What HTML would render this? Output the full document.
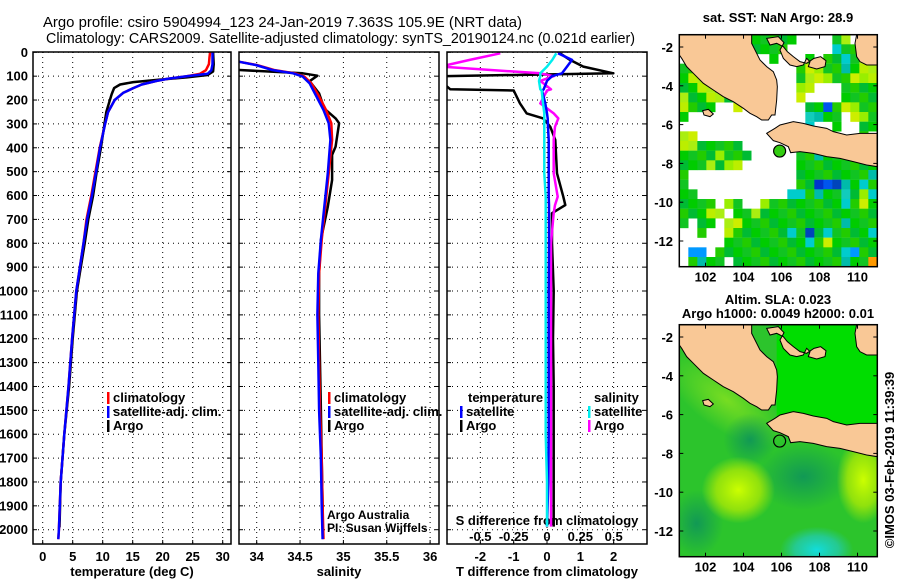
<!DOCTYPE html>
<html><head><meta charset="utf-8"><title>Argo profile</title>
<style>
html,body{margin:0;padding:0;background:#fff;}
svg{display:block;font-family:"Liberation Sans",sans-serif;}
.t{font-size:13px;font-weight:bold;fill:#000;}
.g{stroke:#000;stroke-width:1;stroke-dasharray:1,4;fill:none;}
.box{fill:none;stroke:#000;stroke-width:1.5;}
.ln{fill:none;stroke-width:2.5;stroke-linejoin:round;}
</style></head>
<body>
<svg id="fig" width="900" height="580" viewBox="0 0 900 580">
<defs>
<clipPath id="c1"><rect x="33" y="52" width="198" height="492"/></clipPath>
<clipPath id="c2"><rect x="239" y="52" width="200" height="492"/></clipPath>
<clipPath id="c3"><rect x="447" y="52" width="200" height="492"/></clipPath>
<clipPath id="cm"><rect x="58" y="104" width="594" height="696"/></clipPath>
<radialGradient id="gy"><stop offset="0" stop-color="#ccff00"/><stop offset="0.6" stop-color="#bbee00" stop-opacity="0.7"/><stop offset="1" stop-color="#bbee00" stop-opacity="0"/></radialGradient>
<radialGradient id="gc"><stop offset="0" stop-color="#11dddd"/><stop offset="0.6" stop-color="#22ccbb" stop-opacity="0.7"/><stop offset="1" stop-color="#22ccaa" stop-opacity="0"/></radialGradient>
<radialGradient id="gd"><stop offset="0" stop-color="#119955"/><stop offset="1" stop-color="#119955" stop-opacity="0"/></radialGradient>
<radialGradient id="gl"><stop offset="0" stop-color="#77dd22"/><stop offset="1" stop-color="#77dd22" stop-opacity="0"/></radialGradient>
</defs>
<text x="43" y="27" textLength="479" lengthAdjust="spacingAndGlyphs" style="font-size:15px">Argo profile: csiro 5904994_123 24-Jan-2019 7.363S 105.9E (NRT data)</text>
<text x="46" y="43" textLength="589" lengthAdjust="spacingAndGlyphs" style="font-size:15px">Climatology: CARS2009. Satellite-adjusted climatology: synTS_20190124.nc (0.021d earlier)</text>
<g id="axes"></g>
<g id="maps"></g>
</svg>
<script>
// ---- data ----
const depthTicks=[0,100,200,300,400,500,600,700,800,900,1000,1100,1200,1300,1400,1500,1600,1700,1800,1900,2000];
const tempTicks=[0,5,10,15,20,25,30];
const salTicks=[34,34.5,35,35.5,36];
const tdiffTicks=[-2,-1,0,1,2];
const sdiffTicks=[-0.5,-0.25,0,0.25,0.5];
const climDepth=[0,20,50,75,90,100,110,120,135,150,170,200,250,300,400,500,600,700,800,1000,1200,1400,1600,1800,2000,2040];
const tempClim=[27.9,27.8,27.7,27.2,26.2,24,21,19,16.5,15.1,13.4,12,10.9,10.4,9.5,8.8,8.1,7.3,6.8,5.6,4.9,4.3,3.6,3.0,2.7,2.6];
const tempSat=[28.3,28.3,28.3,28.1,27.5,24,21,19,16.5,15.1,13.4,12,10.9,10.4,9.55,8.9,8.2,7.4,6.8,5.6,4.9,4.3,3.6,3.0,2.7,2.6];
const argoTDepth=[0,50,80,95,105,115,125,135,150,175,200,250,300,400,500,600,700,800,1000,1200,1400,1600,1800,1990];
const tempArgo=[28.4,28.5,28.4,27.5,24,19.3,15.1,12.9,11.9,11.5,11.2,10.6,10.3,9.7,9.0,8.4,7.6,7.0,5.7,5.0,4.4,3.6,3.0,2.8];
const salDepth=[0,40,53,74,88,102,130,179,242,297,367,507,647,786,926,1100,1300,1500,1700,1900,2040];
const salClim=[33.6,33.8,34.0,34.2,34.44,34.55,34.63,34.71,34.80,34.86,34.87,34.83,34.79,34.75,34.72,34.71,34.72,34.73,34.75,34.76,34.77];
const salSat=[33.6,33.8,33.99,34.18,34.42,34.53,34.61,34.68,34.77,34.83,34.85,34.82,34.78,34.74,34.71,34.70,34.71,34.72,34.74,34.75,34.76];
const argoSDepth=[0,70,74,88,98,121,172,236,277,297,395,430,535,647,786,926,1100,1300,1500,1700,1900,1990];
const salArgo=[33.3,33.3,33.8,34.53,34.70,34.61,34.72,34.78,34.91,34.95,34.91,34.87,34.87,34.82,34.74,34.72,34.72,34.73,34.74,34.75,34.76,34.76];
const diffDepth=[4,32,60,88,100,120,155,160,214,256,277,312,367,507,605,640,674,800,1000,1200,1400,1600,1800,1987];
const tDiffArgo=[0.39,0.69,1.09,1.99,-3.2,-3.2,-2.9,-1.0,-0.81,-0.61,-0.11,0.1,0.25,0.3,0.49,0.55,0.15,0.15,0.2,0.18,0.2,0.2,0.2,0.2];
const tDiffSat=[0.33,0.75,0.6,0.45,0.15,0.0,-0.1,-0.15,-0.05,0.0,0.02,0.03,0.05,0.05,0.05,0.06,0.06,0.06,0.05,0.05,0.05,0.05,0.04,0.0];
const sDiffArgo=[-0.35,-0.58,-0.8,-0.05,0.05,-0.05,0.03,0.0,-0.05,0.05,0.085,0.06,0.05,0.05,0.08,0.06,0.05,0.03,0.03,0.03,0.03,0.03,0.03,0.03];
const sDiffSat=[0.07,0.04,0.0,-0.05,-0.05,-0.06,-0.05,-0.04,-0.03,-0.02,-0.02,-0.02,-0.02,-0.02,-0.01,-0.01,-0.01,-0.01,-0.01,-0.01,-0.01,-0.01,0.0,0.0];
const latTicks=[-2,-4,-6,-8,-10,-12];
const lonTicks=[102,104,106,108,110];
const argoLon=105.9, argoLat=-7.363;

// ---- scales ----
const yD=d=>52.3+d*0.2387;
const xT=v=>42.7+v*6;
const xS=v=>256.7+(v-34)*86.7;
const xTd=v=>547+v*33.33;
const xSd=v=>547+v*133.3;
const NS='http://www.w3.org/2000/svg';
const fig=document.getElementById('fig');
const axes=document.getElementById('axes');
function mk(tag,attrs,parent){const e=document.createElementNS(NS,tag);for(const k in attrs)e.setAttribute(k,attrs[k]);(parent||axes).appendChild(e);return e;}
function txt(x,y,s,anchor,cls,parent){const e=mk('text',{x:x,y:y,'text-anchor':anchor||'middle','class':cls||'t'},parent);e.textContent=s;return e;}

const panels=[
 {x0:33,x1:231,clip:'c1',ticks:tempTicks,fx:xT,title:'temperature (deg C)',name:'temperature'},
 {x0:239,x1:439,clip:'c2',ticks:salTicks,fx:xS,title:'salinity',name:'salinity'},
 {x0:447,x1:647,clip:'c3',ticks:tdiffTicks,fx:xTd,title:'T difference from climatology',name:'difference'}
];
panels.forEach(p=>{
 depthTicks.forEach(d=>{
  const l=mk('line',{x1:p.x0,x2:p.x1,y1:yD(d),y2:yD(d),'class':'g'});
  
  
  const t1=mk('line',{x1:p.x0,x2:p.x0+4,y1:yD(d),y2:yD(d),stroke:'#000'});
  
  
  const t2=mk('line',{x1:p.x1-4,x2:p.x1,y1:yD(d),y2:yD(d),stroke:'#000'});
  
  
 });
 p.ticks.forEach(v=>{
  const X=p.fx(v);
  const l=mk('line',{x1:X,x2:X,y1:52,y2:544,'class':'g'});
  
  
  const tk=mk('line',{x1:X,x2:X,y1:540,y2:544,stroke:'#000'});
  
  
  const lb=txt(X,561,String(v));
  
  
 });
 const ti=txt((p.x0+p.x1)/2,576,p.title);
 
 
});
depthTicks.forEach(d=>{
 const lb=txt(28,yD(d)+4.5,String(d),'end');
 
 
});
sdiffTicks.forEach(v=>{
 const X=xSd(v);
 const lb=txt(X,541,String(v));
 
 
});
const sdt=txt(547,525,'S difference from climatology');



function line(depths,vals,fx,color,clip,name){
 let d='';
 depths.forEach((z,i)=>{d+=(i?'L':'M')+fx(vals[i]).toFixed(1)+','+yD(z).toFixed(1);});
 const p=mk('path',{d:d,stroke:color,'class':'ln','clip-path':'url(#'+clip+')'});
 
 
}
line(argoTDepth,tempArgo,xT,'#000','c1','temperature-argo-line');
line(climDepth,tempClim,xT,'#ff0000','c1','temperature-climatology-line');
line(climDepth,tempSat,xT,'#0000ff','c1','temperature-satellite-line');
line(argoSDepth,salArgo,xS,'#000','c2','salinity-argo-line');
line(salDepth,salClim,xS,'#ff0000','c2','salinity-climatology-line');
line(salDepth,salSat,xS,'#0000ff','c2','salinity-satellite-line');
line(diffDepth,tDiffArgo,xTd,'#000','c3','t-diff-argo-line');
line(diffDepth,sDiffArgo,xSd,'#ff00ff','c3','s-diff-argo-line');
line(diffDepth,tDiffSat,xTd,'#0000ff','c3','t-diff-satellite-line');
line(diffDepth,sDiffSat,xSd,'#00eeee','c3','s-diff-satellite-line');

panels.forEach(p=>{
 const b=mk('rect',{x:p.x0,y:52,width:p.x1-p.x0,height:492,'class':'box'});
 
 
});

function legend(x,y,color,label,name){
 const m=mk('rect',{x:x,y:y-10,width:2.5,height:12,fill:color});
 
 
 const t=txt(x+6,y,label,'start');
 
 
}
legend(107,402,'#ff0000','climatology','legend-temp-climatology');
legend(107,416,'#0000ff','satellite-adj. clim.','legend-temp-satellite');
legend(107,430,'#000','Argo','legend-temp-argo');
legend(328,402,'#ff0000','climatology','legend-sal-climatology');
legend(328,416,'#0000ff','satellite-adj. clim.','legend-sal-satellite');
legend(328,430,'#000','Argo','legend-sal-argo');
const lt=txt(468,402,'temperature','start');


legend(460,416,'#0000ff','satellite','legend-tdiff-satellite');
legend(460,430,'#000','Argo','legend-tdiff-argo');
const ls=txt(594,402,'salinity','start');


legend(588,416,'#00eeee','satellite','legend-sdiff-satellite');
legend(588,430,'#ff00ff','Argo','legend-sdiff-argo');
const a1=txt(327,519,'Argo Australia','start','');
a1.setAttribute('style','font-size:12px');


const a2=txt(327,532,'PI: Susan Wijffels','start','');
a2.setAttribute('style','font-size:12px');



// ---- maps ----
const maps=document.getElementById('maps');
const mapX0=679.3,mapX1=877.3;
const lonX=lo=>mapX0+(lo-100.62)*19;
const latY=(la,top)=>top+12.3+(-2-la)*19.4;
const sstRows=[
"........ggggg....gy...","........gggg.....cgggg","..........g...g.ggcgyg","gg...........gyyggcgyy",
"gyyg.........gyyyggyyy","ggyyg........yy...gggg","yggyyg.......y....gggg","yggg..y.......ggdgyygg",
"g.............ccgg.yyg","..............c..g..gg","yy..................g.","yyggggg.........c.....",
"ggggyggg.....ggcgggggg","gggygyy......ggggggggg","g............ggggggggc","g............ggdddcgcg",
"gg..........ccgcggcgyc","gggg.yg..yggggggggcgyg","gggyy.ggyggggggggggggg","g.gg.yygggggggggggcggg",
"..g..yggggggcgdgcggggc",".....gggggggggcgyggggg",".bb.ggggggggggggggcbgg",".gcgg.ggggggggggggcggo"];
const cellCol={g:['#00cc00','#00bb33','#22cc00','#11c422'],y:['#99ee00','#ccee00','#aaee11','#bbee00'],c:['#00cccc','#00bbaa','#11ccbb','#00cccc'],d:['#0033cc','#0066dd','#0044bb','#0055ee'],b:['#0099ff','#0099ff','#0099ff','#0099ff'],o:['#ff9900','#ff9900','#ff9900','#ff9900']};
const landPaths=[
"M58,104L275,104L275,130L290,160L300,180L320,200L340,215L350,240L352,260L350,300L345,345L335,345L325,360L305,360L290,350L270,340L250,325L220,305L190,290L160,270L130,250L100,220L80,200L65,175L58,165Z",
"M320,400L345,385L360,375L400,365L430,370L460,378L500,385L520,395L560,405L600,400L630,400L652,400L652,500L620,495L580,485L540,475L500,470L460,460L420,455L392,458L385,440L360,428L340,422Z",
"M590,104L652,104L652,195L620,195L600,185L590,170L585,130Z",
"M320,115L355,110L372,128L360,150L370,175L390,195L410,200L430,195L440,175L450,185L445,200L470,207L495,200L498,182L482,170L462,175L440,190L420,185L400,170L382,155L370,140L350,130L330,135Z",
"M128,332L145,328L160,342L150,350L132,345Z"
];
function drawMap(top,kind){
 const g=mk('g',{transform:'translate(660,'+(top-34.7)+') scale(0.33333)'},maps);
 
 
 const inner=mk('g',{'clip-path':'url(#cm)'},g);
 if(kind==='sst'){
  mk('rect',{x:58,y:104,width:594,height:696,fill:'#fff'},inner);
  sstRows.forEach((row,j)=>{
   for(let i=0;i<row.length;i++){
    const ch=row[i]; if(ch==='.')continue;
    const r=mk('rect',{x:58+i*27,y:104+j*29,width:27.5,height:29.5,fill:cellCol[ch][(i*3+j)%4]},inner);
   }
  });
 } else {
  mk('rect',{x:58,y:104,width:594,height:696,fill:'#2cc42c'},inner);
  mk('rect',{x:350,y:104,width:302,height:300,fill:'#00dd00'},inner);
  mk('ellipse',{cx:200,cy:330,rx:210,ry:90,fill:'url(#gl)',transform:'rotate(35 200 330)'},inner);
  mk('ellipse',{cx:270,cy:450,rx:80,ry:80,fill:'url(#gd)'},inner);
  mk('ellipse',{cx:430,cy:560,rx:140,ry:100,fill:'url(#gd)'},inner);
  mk('ellipse',{cx:110,cy:700,rx:80,ry:100,fill:'url(#gd)'},inner);
  mk('ellipse',{cx:235,cy:600,rx:110,ry:100,fill:'url(#gy)'},inner);
  mk('ellipse',{cx:610,cy:570,rx:80,ry:130,fill:'url(#gy)'},inner);
  mk('ellipse',{cx:470,cy:780,rx:110,ry:70,fill:'url(#gc)'},inner);
 }
 landPaths.forEach(d=>{
  const p=mk('path',{d:d,fill:'#f9c896',stroke:'#000','stroke-width':3},inner);
  
  
 });
 const fr=mk('rect',{x:mapX0,y:top,width:mapX1-mapX0,height:232,'class':'box'},maps);
 
 
 latTicks.forEach(la=>{
  const Y=latY(la,top);
  const l=txt(673,Y+5,String(la),'end','t',maps);
  
  
  mk('line',{x1:mapX0,x2:mapX0+4,y1:Y,y2:Y,stroke:'#000'},maps);
  mk('line',{x1:mapX1-4,x2:mapX1,y1:Y,y2:Y,stroke:'#000'},maps);
 });
 lonTicks.forEach(lo=>{
  const X=lonX(lo);
  const l=txt(X,top+247,String(lo),'middle','t',maps);
  
  
  mk('line',{x1:X,x2:X,y1:top,y2:top+4,stroke:'#000'},maps);
  mk('line',{x1:X,x2:X,y1:top+228,y2:top+232,stroke:'#000'},maps);
 });
 const c=mk('circle',{cx:lonX(argoLon),cy:latY(argoLat,top),r:6,fill:kind==='sst'?'#33cc11':'none',stroke:'#000','stroke-width':1.2},maps);
 
 
}
drawMap(34.7,'sst');
drawMap(324.7,'sla');
const m1=txt(778,22,'sat. SST: NaN Argo: 28.9','middle','t',maps);


const m2=txt(778,304,'Altim. SLA: 0.023','middle','t',maps);


const m3=txt(778,318,'Argo h1000: 0.0049 h2000: 0.01','middle','t',maps);


const cr=txt(894,460,'©IMOS 03-Feb-2019 11:39:39','middle','',maps);
cr.setAttribute('transform','rotate(-90 894 460)');
cr.setAttribute('style','font-size:13px');


</script>
</body></html>
